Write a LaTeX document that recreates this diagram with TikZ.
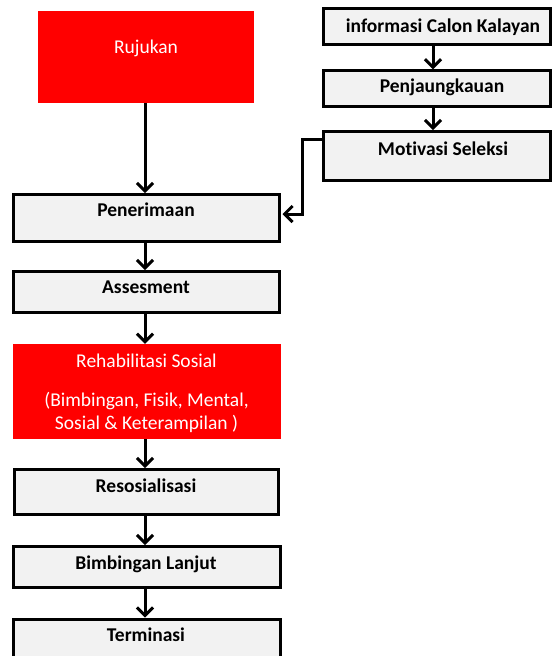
\documentclass[tikz,border=0pt]{standalone}
\usepackage{fontspec}
\setmainfont[Ligatures={NoCommon}]{Carlito}
\usetikzlibrary{arrows.meta}
\definecolor{boxgray}{HTML}{F2F2F2}
\definecolor{boxred}{HTML}{FF0000}
\tikzset{
  graybox/.style={draw=black, line width=3pt, fill=boxgray, rectangle, inner sep=0pt},
  redbox/.style={fill=boxred, rectangle, inner sep=0pt},
  lbl/.style={anchor=base, inner sep=0pt, font=\fontsize{19.5}{22}\selectfont\bfseries},
  wlbl/.style={anchor=base, inner sep=0pt, text=white, font=\fontsize{19.5}{22}\selectfont},
  conn/.style={line width=3pt, -{Straight Barb[length=8pt, width=16pt, line width=3pt]}},
}
\begin{document}
\begin{tikzpicture}[x=1pt, y=-1pt]
\useasboundingbox (0,0) rectangle (553,656);
% left column
\node[redbox, minimum width=216pt, minimum height=92pt] (ruj) at (146,57) {};
\node[wlbl] (tRuj) at (146,53.5) {Rujukan};
\node[graybox, minimum width=266pt, minimum height=47pt] (pen) at (146.5,218) {};
\node[lbl] (tPen) at (146,216) {Penerimaan};
\node[graybox, minimum width=266pt, minimum height=40.5pt] (ass) at (146.5,291.75) {};
\node[lbl] (tAss) at (146,293.3) {Assesment};
\node[redbox, minimum width=268pt, minimum height=95pt] (reh) at (147,391.5) {};
\node[wlbl] (tReh1) at (146.5,367.3) {Rehabilitasi Sosial};
\node[wlbl] (tReh2) at (146.5,406.7) {(Bimbingan, Fisik, Mental,};
\node[wlbl] (tReh3) at (146.5,429.3) {Sosial \& Keterampilan )};
\node[graybox, minimum width=264pt, minimum height=45pt] (res) at (146,492) {};
\node[lbl] (tRes) at (146,492.3) {Resosialisasi};
\node[graybox, minimum width=266.4pt, minimum height=40.5pt] (bim) at (147,566.75) {};
\node[lbl] (tBim) at (146,569.3) {Bimbingan Lanjut};
\node[graybox, minimum width=266.4pt, minimum height=44pt] (ter) at (147,641) {};
\node[lbl] (tTer) at (146,641.7) {Terminasi};
% right column
\node[graybox, minimum width=227pt, minimum height=36pt] (inf) at (437,26.5) {};
\node[lbl] (tInf) at (443,32.3) {informasi Calon Kalayan};
\node[graybox, minimum width=227pt, minimum height=35.4pt] (pjk) at (437,88.5) {};
\node[lbl] (tPjk) at (442,92.7) {Penjaungkauan};
\node[graybox, minimum width=227pt, minimum height=48.7pt] (mot) at (437,155.9) {};
\node[lbl] (tMot) at (443,155) {Motivasi Seleksi};
% connectors
\draw[conn] (ruj.south -| 145,0) -- (pen.north -| 145,0);
\draw[conn] (pen.south -| 145,0) -- (ass.north -| 145,0);
\draw[conn] (ass.south -| 145,0) -- (reh.north -| 145,0);
\draw[conn] (reh.south -| 145,0) -- (res.north -| 145,0);
\draw[conn] (res.south -| 145,0) -- (bim.north -| 145,0);
\draw[conn] (bim.south -| 145,0) -- (ter.north -| 145,0);
\draw[conn] (inf.south -| 433,0) -- (pjk.north -| 433,0);
\draw[conn] (pjk.south -| 433,0) -- (mot.north -| 433,0);
\draw[conn, line join=miter] ([yshift=16pt]mot.west) -| (302.5,214) -- ([yshift=4pt, xshift=1.5pt]pen.east);
\end{tikzpicture}
\end{document}
